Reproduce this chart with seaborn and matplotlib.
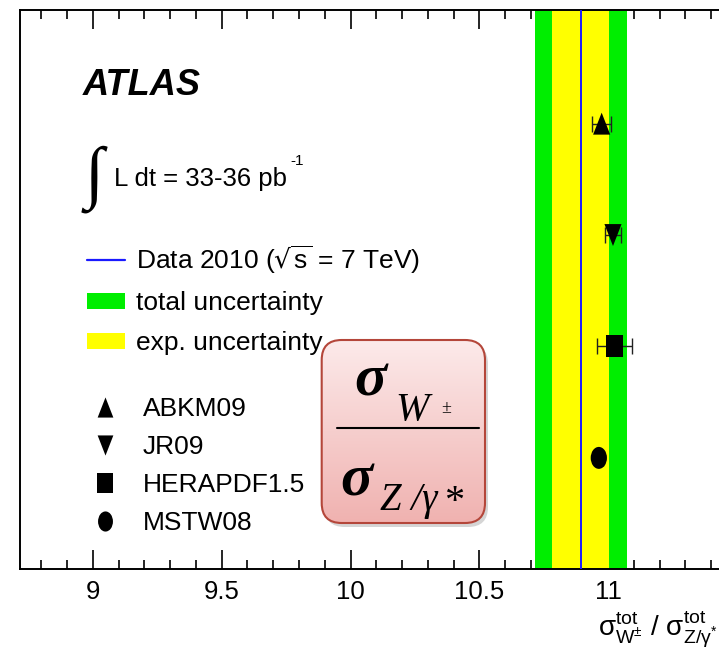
import numpy as np
import pandas as pd
import matplotlib
matplotlib.use("Agg")
import matplotlib.pyplot as plt
import seaborn as sns
from matplotlib.path import Path
from matplotlib.patches import FancyBboxPatch, Rectangle
from matplotlib.lines import Line2D
from matplotlib.ticker import MultipleLocator, FixedLocator
from matplotlib.transforms import Affine2D
from matplotlib.font_manager import FontProperties, fontManager

# ---------------- data ----------------
models = ["ABKM09", "JR09", "HERAPDF1.5", "MSTW08"]
model_ratio = [10.975, 11.019, 11.024, 10.964]
model_err = [0.036, 0.032, 0.067, 0.015]
model_rows = [4, 3, 2, 1]
data_ratio = 10.893
exp_unc = [0.110, 0.110]   # down, up
tot_unc = [0.177, 0.179]   # down, up
xticks = [9, 9.5, 10, 10.5, 11]
xtick_labels = ["9", "9.5", "10", "10.5", "11"]
legend_top = ["Data 2010 ($\\sqrt{s}$ = 7 TeV)", "total uncertainty", "exp. uncertainty"]

# ---------------- style ----------------
sns.set_theme(style="white")
names = {f.name for f in fontManager.ttflist}
NARROW = "Liberation Sans Narrow" in names
SANS = "Liberation Sans Narrow" if NARROW else "Liberation Sans"
SERIF = "Liberation Serif"
FAM = [SANS, "DejaVu Sans"]
plt.rcParams["font.family"] = FAM
plt.rcParams["mathtext.default"] = "regular"
plt.rcParams["text.color"] = "black"
plt.rcParams["axes.labelcolor"] = "black"
plt.rcParams["xtick.color"] = "black"

# font sizes (narrow font can be taller for the same width)
FS_LEG = 22 if NARROW else 19
FS_TICK = 22 if NARROW else 18.5
FS_ATLAS = 30 if NARROW else 26
FS_LUMI = 21 if NARROW else 18.5
FS_XLAB = 21 if NARROW else 20

W, H = 719, 659
fig = plt.figure(figsize=(W / 100, H / 100), dpi=100)
fig.patch.set_facecolor("white")

AX_L, AX_T, AX_B = 20.0, 10.0, 569.3
XMIN, XMAX = 8.717, 11.5
PPU = 257.6
AX_W = (XMAX - XMIN) * PPU
ax = fig.add_axes([AX_L / W, 1 - AX_B / H, AX_W / W, (AX_B - AX_T) / H])
ax.set_facecolor("white")

def px2ax(x, y):
    return ((x - AX_L) / AX_W, (AX_B - y) / (AX_B - AX_T))

GREEN, YELLOW, BLUE = "#00ee00", "#ffff00", "#1a1aff"
ax.axvspan(data_ratio - tot_unc[0], data_ratio + tot_unc[1], color=GREEN, lw=0, zorder=1)
ax.axvspan(data_ratio - exp_unc[0], data_ratio + exp_unc[1], color=YELLOW, lw=0, zorder=2)
ax.axvline(data_ratio, color=BLUE, lw=1.4, zorder=3)

# markers (reference is slightly stretched vertically)
MV, LT, CP = Path.MOVETO, Path.LINETO, Path.CLOSEPOLY
tri_up = Path([(0, .5), (-.39, -.5), (.39, -.5), (0, .5)], [MV, LT, LT, CP])
tri_dn = Path([(0, -.5), (-.39, .5), (.39, .5), (0, -.5)], [MV, LT, LT, CP])
square = Path([(-.38, -.5), (.38, -.5), (.38, .5), (-.38, .5), (-.38, -.5)], [MV, LT, LT, LT, CP])
ellipse = Path.unit_circle().transformed(Affine2D().scale(0.37, 0.5))
marker_map = dict(zip(models, [tri_up, tri_dn, square, ellipse]))

df = pd.DataFrame({"model": models, "ratio": model_ratio, "row": model_rows, "err": model_err})
ax.errorbar(df["ratio"], df["row"], xerr=df["err"], fmt="none", ecolor="#222222",
            elinewidth=1.0, capsize=5.5, capthick=1.0, zorder=4)
sns.scatterplot(data=df, x="ratio", y="row", style="model", markers=marker_map,
                s=250, color="black", linewidth=0, edgecolor="none", legend=False,
                ax=ax, zorder=5)

ax.set_xlim(XMIN, XMAX)
ax.set_ylim(0, 5.02)
ax.set_xlabel("")
ax.set_ylabel("")
ax.set_yticks([])
ax.xaxis.set_major_locator(FixedLocator(xticks))
ax.set_xticklabels(xtick_labels)
ax.xaxis.set_minor_locator(MultipleLocator(0.1))
ax.tick_params(axis="x", which="both", direction="in", top=True, bottom=True,
               color="black", width=1.2, labelsize=FS_TICK, pad=7.5, labelcolor="black")
ax.tick_params(axis="x", which="major", length=13.7)
ax.tick_params(axis="x", which="minor", length=6.8)
for lab in ax.get_xticklabels():
    lab.set_fontfamily(FAM)
for s in ax.spines.values():
    s.set_color("black")
    s.set_linewidth(1.4)
    s.set_visible(True)

# legends
fp = FontProperties(family=FAM, size=FS_LEG)
em = FS_LEG / 0.72
h1 = [Line2D([], [], color=BLUE, lw=1.6),
      Rectangle((0, 0), 1, 1, facecolor=GREEN, edgecolor="none"),
      Rectangle((0, 0), 1, 1, facecolor=YELLOW, edgecolor="none")]
leg1 = ax.legend(h1, legend_top, loc="upper left", bbox_to_anchor=px2ax(86.7, 243),
                 bbox_transform=ax.transAxes, frameon=False, borderpad=0, borderaxespad=0,
                 handlelength=38 / em, handleheight=14 / em, handletextpad=11.7 / em,
                 labelspacing=0.6, prop=fp, labelcolor="black")
ax.add_artist(leg1)
h2 = [Line2D([], [], ls="none", marker=marker_map[m], markersize=14.5, color="black",
             markeredgewidth=0) for m in models]
leg2 = ax.legend(h2, models, loc="upper left", bbox_to_anchor=px2ax(86, 397.5),
                 bbox_transform=ax.transAxes, frameon=False, borderpad=0, borderaxespad=0,
                 handlelength=38 / em, handletextpad=19 / em, labelspacing=0.53, prop=fp,
                 labelcolor="black")

# ---------------- overlay (pixel coordinates, top-origin) ----------------
ov = fig.add_axes([0, 0, 1, 1], zorder=10)
ov.axis("off")
ov.patch.set_alpha(0)

ov.text(83, 95, "ATLAS", fontsize=FS_ATLAS, fontweight="bold", fontstyle="italic",
        family=FAM, ha="left", va="baseline", color="black")
ov.text(94, 195, "\u222b", fontsize=50, family=["Liberation Serif", "DejaVu Serif"],
        ha="center", va="baseline", color="black")
lumi = ov.text(114, 186, "L dt = 33-36 pb", fontsize=FS_LUMI, family=FAM,
               ha="left", va="baseline", color="black")

# formula box
bx0, by0, bx1, by1 = 321.7, 340.0, 485.0, 523.0
shadow = FancyBboxPatch((bx0 + 3, by0 + 4), bx1 - bx0, by1 - by0,
                        boxstyle="round,pad=0,rounding_size=20",
                        facecolor="#888888", edgecolor="none", alpha=0.35, zorder=1)
ov.add_patch(shadow)
top_c = np.array([252, 234, 234]) / 255
bot_c = np.array([240, 178, 176]) / 255
t = np.linspace(0, 1, 200)[:, None, None]
grad = (top_c[None, None, :] * (1 - t) + bot_c[None, None, :] * t) * np.ones((1, 2, 1))
im = ov.imshow(grad, extent=[bx0, bx1, by1, by0], origin="upper", aspect="auto", zorder=2)
clip = FancyBboxPatch((bx0, by0), bx1 - bx0, by1 - by0,
                      boxstyle="round,pad=0,rounding_size=20",
                      facecolor="none", edgecolor="none")
ov.add_patch(clip)
im.set_clip_path(clip)
box = FancyBboxPatch((bx0, by0), bx1 - bx0, by1 - by0,
                     boxstyle="round,pad=0,rounding_size=20",
                     facecolor="none", edgecolor="#b4463a", lw=1.5, zorder=3)
ov.add_patch(box)
ov.set_xlim(0, W)
ov.set_ylim(H, 0)

SER = [SERIF, "DejaVu Serif"]
ov.text(354, 395, "\u03c3", fontsize=43, family=SER, fontweight="bold", fontstyle="italic",
        ha="left", va="baseline", zorder=5, color="black")
ov.text(395, 420, "W", fontsize=29, family=SER, fontstyle="italic",
        ha="left", va="baseline", zorder=5, color="black")
ov.text(441, 413, "\u00b1", fontsize=13, family=SER,
        ha="left", va="baseline", zorder=5, color="black")
ov.plot([336.7, 479], [428.3, 428.3], color="black", lw=1.5, zorder=5)
ov.text(340.5, 495, "\u03c3", fontsize=43, family=SER, fontweight="bold", fontstyle="italic",
        ha="left", va="baseline", zorder=5, color="black")
ov.text(380, 510, "Z /\u03b3", fontsize=28, family=SER, fontstyle="italic",
        ha="left", va="baseline", zorder=5, color="black")
ov.text(444, 512, "*", fontsize=29, family=SER,
        ha="left", va="baseline", zorder=5, color="black")

# x-axis title
ov.text(717, 637, r"$\sigma^{tot}_{W^{\pm}}$ / $\sigma^{tot}_{Z/\gamma^{*}}$", fontsize=FS_XLAB,
        family=FAM, ha="right", va="baseline", color="black")

# superscript of the luminosity unit, placed right after the text
fig.canvas.draw()
ext = lumi.get_window_extent(fig.canvas.get_renderer())
x_end = ov.transData.inverted().transform((ext.x1, ext.y0))[0]
ov.text(x_end + 3, 165, "-1", fontsize=11, family=FAM, ha="left", va="baseline", color="black")

fig.savefig("out.png", dpi=100)
